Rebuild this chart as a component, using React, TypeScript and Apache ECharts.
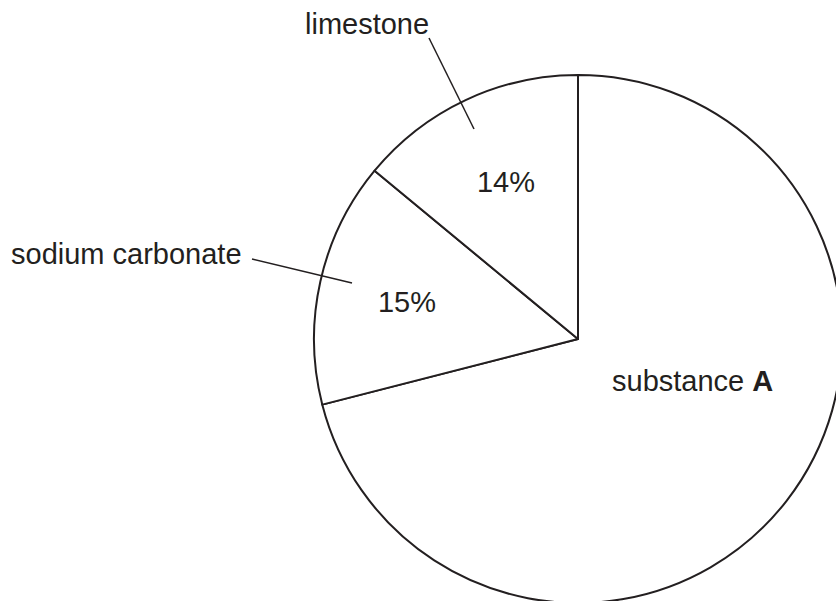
import React, { useEffect, useRef } from "react";
import * as echarts from "echarts";

const categories = ["substance A", "sodium carbonate", "limestone"];
const values = [71, 15, 14];
const percentLabels = ["", "15%", "14%"];

const INK = "#231f20";
const FONT = "'Liberation Sans', Arial, Helvetica, sans-serif";
const FS = 29;

export default function App() {
  const ref = useRef<HTMLDivElement>(null);
  useEffect(() => {
    if (!ref.current) return;
    const chart = echarts.init(ref.current, null, { renderer: "svg" });
    const textStyle = { fill: INK, fontSize: FS, fontFamily: FONT };
    chart.setOption({
      animation: false,
      backgroundColor: "#ffffff",
      series: [
        {
          type: "pie",
          center: [578, 339],
          radius: 264,
          startAngle: 90,
          clockwise: true,
          silent: true,
          z: 1,
          label: { show: false },
          labelLine: { show: false },
          itemStyle: { color: "#ffffff", borderColor: INK, borderWidth: 2 },
          data: categories.map((name, i) => ({ name, value: values[i] })),
        },
      ],
      graphic: {
        elements: [
          { type: "text", z: 100, x: 305, y: 24, style: { ...textStyle, text: categories[2], align: "left", verticalAlign: "middle" } },
          { type: "line", z: 100, shape: { x1: 429, y1: 38, x2: 474, y2: 129 }, style: { stroke: INK, lineWidth: 1.5 } },
          { type: "text", z: 100, x: 506, y: 182, style: { ...textStyle, text: percentLabels[2], align: "center", verticalAlign: "middle" } },
          { type: "text", z: 100, x: 11, y: 254, style: { ...textStyle, text: categories[1], align: "left", verticalAlign: "middle" } },
          { type: "line", z: 100, shape: { x1: 252, y1: 259, x2: 352, y2: 283 }, style: { stroke: INK, lineWidth: 1.5 } },
          { type: "text", z: 100, x: 407, y: 302, style: { ...textStyle, text: percentLabels[1], align: "center", verticalAlign: "middle" } },
          {
            type: "text",
            z: 100,
            x: 612,
            y: 381,
            style: {
              ...textStyle,
              text: "substance {b|A}",
              align: "left",
              verticalAlign: "middle",
              rich: { b: { fontWeight: "bold", fontSize: FS, fontFamily: FONT, fill: INK } },
            },
          },
        ],
      },
    });
    return () => chart.dispose();
  }, []);
  return (
    <div
      ref={ref}
      style={{ position: "absolute", left: 0, top: 0, width: 836, height: 601 }}
    />
  );
}
